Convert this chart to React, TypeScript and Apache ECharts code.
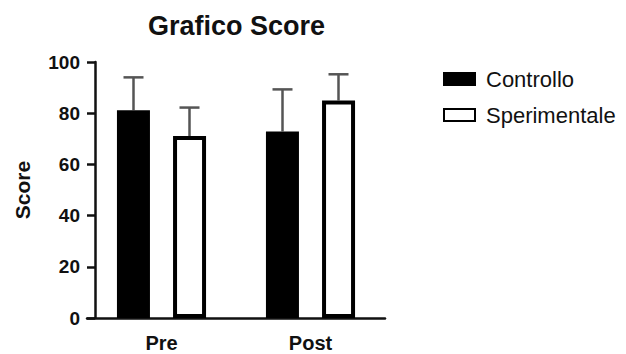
import React, { useEffect, useRef } from "react";
import * as echarts from "echarts";

const categories = ["Pre", "Post"];
const controlloMean = [81.2, 72.9];
const controlloUpper = [94.0, 89.3];
const sperimentaleMean = [71.1, 85.0];
const sperimentaleUpper = [82.2, 95.2];
const yTicks = [0, 20, 40, 60, 80, 100];

const FONT = "'Liberation Sans', Arial, sans-serif";
const BAR_W = 33;
const BAR_OFFSET = 28;

export default function App() {
  const ref = useRef<HTMLDivElement>(null);
  useEffect(() => {
    document.body.style.margin = "0";
    const chart = echarts.init(ref.current!, null, { renderer: "svg" });
    const errData = (upper: number[], mean: number[]) =>
      upper.map((u, i) => [i, mean[i], u]);
    const errSeries = (name: string, data: number[][], dir: number) => ({
      type: "custom",
      name,
      z: 1,
      silent: true,
      renderItem: (params: any, api: any) => {
        const i = api.value(0);
        const lo = api.coord([i, api.value(1)]);
        const hi = api.coord([i, api.value(2)]);
        const x = lo[0] + dir * BAR_OFFSET;
        const capHalf = 10;
        const style = { stroke: "#555", lineWidth: 2.5 };
        return {
          type: "group",
          children: [
            { type: "line", shape: { x1: x, y1: lo[1], x2: x, y2: hi[1] }, style },
            { type: "line", shape: { x1: x - capHalf, y1: hi[1], x2: x + capHalf, y2: hi[1] }, style },
          ],
        };
      },
      data,
    });
    chart.setOption({
      animation: false,
      title: {
        text: "Grafico Score",
        left: 143,
        top: 7,
        textStyle: { fontFamily: FONT, fontSize: 27, fontWeight: "bold", color: "#111" },
      },
      legend: {
        orient: "vertical",
        left: 438,
        top: 63,
        itemWidth: 31,
        itemHeight: 12,
        itemGap: 14,
        icon: "rect",
        data: ["Controllo", "Sperimentale"],
        textStyle: { fontFamily: FONT, fontSize: 22, color: "#111", lineHeight: 22, padding: [0, 0, 0, 6] },
      },
      grid: { left: 87, width: 298, top: 62, height: 256, containLabel: false },
      xAxis: {
        type: "category",
        data: categories,
        axisLine: { lineStyle: { color: "#111", width: 2.5 } },
        axisTick: { alignWithLabel: true, length: 9, lineStyle: { color: "#111", width: 2.5 } },
        axisLabel: { fontFamily: FONT, fontSize: 20, fontWeight: "bold", color: "#111", margin: 15 },
      },
      yAxis: {
        type: "value",
        min: 0,
        max: 100,
        interval: 20,
        offset: -8,
        name: "Score",
        nameLocation: "middle",
        nameGap: 62,
        nameTextStyle: { fontFamily: FONT, fontSize: 21, fontWeight: "bold", color: "#111" },
        axisLine: { show: true, lineStyle: { color: "#111", width: 2.5 } },
        axisTick: { show: true, length: 8, lineStyle: { color: "#111", width: 2.5 } },
        splitLine: { show: false },
        axisLabel: {
          fontFamily: FONT,
          fontSize: 19,
          fontWeight: "bold",
          color: "#111",
          margin: 15,
          formatter: (v: number) => (yTicks.includes(v) ? String(v) : ""),
        },
      },
      series: [
        errSeries("errC", errData(controlloUpper, controlloMean), -1),
        errSeries("errS", errData(sperimentaleUpper, sperimentaleMean), 1),
        {
          type: "bar",
          name: "Controllo",
          z: 2,
          data: controlloMean,
          barWidth: BAR_W,
          barGap: "70%",
          itemStyle: { color: "#000", borderColor: "#000", borderWidth: 4 },
        },
        {
          type: "bar",
          name: "Sperimentale",
          z: 2,
          data: sperimentaleMean,
          barWidth: BAR_W,
          barGap: "70%",
          itemStyle: { color: "#fff", borderColor: "#000", borderWidth: 4 },
        },
      ],
    });
    return () => chart.dispose();
  }, []);
  return <div ref={ref} style={{ width: 626, height: 354 }} />;
}
